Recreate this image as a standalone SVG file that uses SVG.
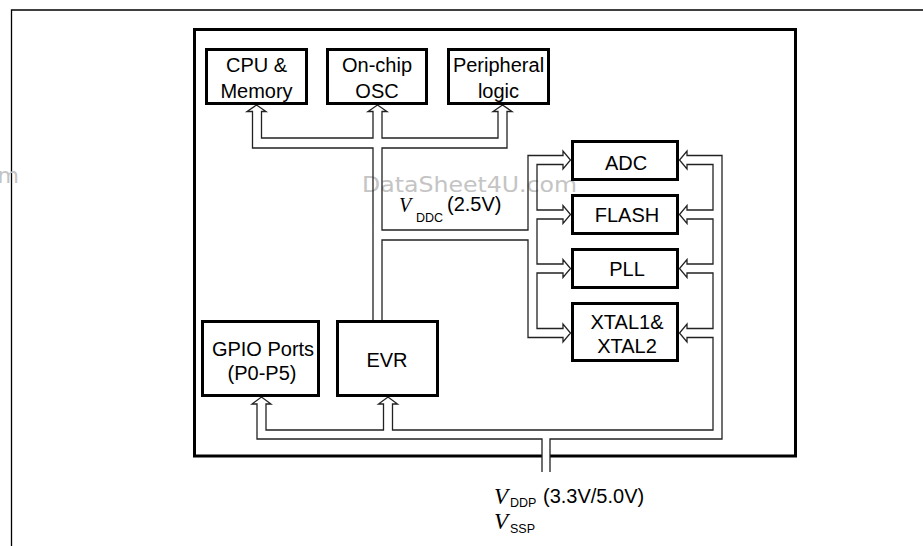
<svg xmlns="http://www.w3.org/2000/svg" width="923" height="546" viewBox="0 0 923 546">
<style>
.frame{fill:none;stroke:#000;stroke-width:1.3}
.box{fill:#fff;stroke:#000;stroke-width:3}
.main{fill:none;stroke:#000;stroke-width:3}
.bus{fill:none;stroke:#222;stroke-width:1.3;stroke-linejoin:miter}
.lbl{font-family:"Liberation Sans",Arial,sans-serif;font-size:20px;fill:#000;text-anchor:middle}
.v{font-family:"Liberation Serif","Times New Roman",serif;font-style:italic;fill:#000}
.sub{font-family:"Liberation Sans",Arial,sans-serif;font-size:12.5px;fill:#000}
.t{font-family:"Liberation Sans",Arial,sans-serif;font-size:20px;fill:#000}
.wm{font-family:"DejaVu Sans",Verdana,sans-serif;font-size:22px;fill:#c4c4c4}
</style>
<rect width="923" height="546" fill="#fff"/>
<path class="frame" d="M923 10 H11.5 V546"/>
<text class="wm" x="19" y="183" text-anchor="end">m</text>
<text class="wm" x="362" y="192" textLength="215" lengthAdjust="spacingAndGlyphs">DataSheet4U.com</text>
<path class="main" d="M542 456 H194.5 V29.5 H795.5 V456 H550"/>
<g id="connectors">
<path class="bus" d="M373 320 V148 H252.5 V111.5 H247 L256.5 105 L266 111.5 H261.5 V138 H373 V111.5 H368 L377.5 105 L387 111.5 H382 V138 H498 V111.5 H493 L502.5 105 L512 111.5 H507 V148 H382 V230 H528 V155.5 H563 V151 L570.5 160 L563 169 V164.5 H537 V210 H563 V205.5 L570.5 214.5 L563 223.5 V219 H537 V264 H563 V259.5 L570.5 268.5 L563 277.5 V273 H537 V328.5 H563 V324 L570.5 333 L563 342 V337.5 H528 V240 H382 V320"/>
<path class="bus" d="M542 472 V439 H257 V404 H252 L261.5 397 L271 404 H266 V430 H383.5 V404 H378.5 L388 397 L397.5 404 H392.5 V430 H713 V337.5 H687 V342 L679.5 333 L687 324 V328.5 H713 V273 H687 V277.5 L679.5 268.5 L687 259.5 V264 H713 V219 H687 V223.5 L679.5 214.5 L687 205.5 V210 H713 V164.5 H687 V169 L679.5 160 L687 151 V155.5 H722 V439 H550 V472"/>
</g>
<g id="cpu"><rect class="box" x="206.5" y="49.5" width="100" height="54"/><text class="lbl" x="256.5" y="72">CPU &amp;</text><text class="lbl" x="256.5" y="98">Memory</text></g>
<g id="osc"><rect class="box" x="327.5" y="49.5" width="99" height="54"/><text class="lbl" x="377" y="72">On-chip</text><text class="lbl" x="377" y="98">OSC</text></g>
<g id="periph"><rect class="box" x="448.5" y="49.5" width="100" height="54"/><text class="lbl" x="498.5" y="72">Peripheral</text><text class="lbl" x="498.5" y="98">logic</text></g>
<g id="adc"><rect class="box" x="572.5" y="141.5" width="105" height="38"/><text class="lbl" x="626" y="170">ADC</text></g>
<g id="flash"><rect class="box" x="572.5" y="195.5" width="105" height="38"/><text class="lbl" x="627" y="222">FLASH</text></g>
<g id="pll"><rect class="box" x="572.5" y="249.5" width="105" height="38"/><text class="lbl" x="627" y="276">PLL</text></g>
<g id="xtal"><rect class="box" x="572.5" y="303.5" width="105" height="57"/><text class="lbl" x="627" y="328.5">XTAL1&amp;</text><text class="lbl" x="627" y="352.5">XTAL2</text></g>
<g id="gpio"><rect class="box" x="202.5" y="321.5" width="116" height="74"/><text class="lbl" x="263" y="356">GPIO Ports</text><text class="lbl" x="262" y="380">(P0-P5)</text></g>
<g id="evr"><rect class="box" x="337.5" y="321.5" width="100" height="74"/><text class="lbl" x="387" y="367">EVR</text></g>
<g id="vddc"><text class="v" x="399" y="212" font-size="20">V</text><text class="sub" x="416" y="221.5">DDC</text><text class="t" x="447" y="211">(2.5V)</text></g>
<g id="vddp"><text class="v" x="494" y="504" font-size="23">V</text><text class="sub" x="510" y="507">DDP</text><text class="t" x="543" y="503">(3.3V/5.0V)</text></g>
<g id="vssp"><text class="v" x="494" y="529" font-size="23">V</text><text class="sub" x="510" y="533">SSP</text></g>
</svg>
